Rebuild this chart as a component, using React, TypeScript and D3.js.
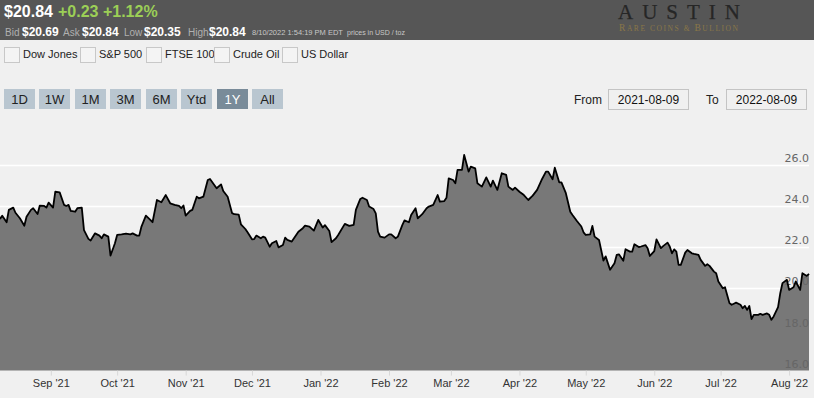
import React, { useEffect, useRef } from "react";
import * as d3 from "d3";

// silver spot, 1Y view
const dates = [
  "2021-08-09", "2021-08-10", "2021-08-12", "2021-08-13", "2021-08-15", "2021-08-16", "2021-08-18", "2021-08-20",
  "2021-08-21", "2021-08-23", "2021-08-24", "2021-08-26", "2021-08-27", "2021-08-29", "2021-08-30", "2021-08-31",
  "2021-09-02", "2021-09-03", "2021-09-05", "2021-09-07", "2021-09-08", "2021-09-09", "2021-09-10", "2021-09-12",
  "2021-09-13", "2021-09-15", "2021-09-16", "2021-09-18", "2021-09-19", "2021-09-21", "2021-09-23", "2021-09-24",
  "2021-09-25", "2021-09-27", "2021-09-28", "2021-09-30",
  "2021-10-01", "2021-10-03", "2021-10-05", "2021-10-07", "2021-10-08", "2021-10-10", "2021-10-11", "2021-10-12",
  "2021-10-14", "2021-10-16", "2021-10-17", "2021-10-19", "2021-10-21", "2021-10-23", "2021-10-25", "2021-10-27",
  "2021-10-29", "2021-10-30", "2021-10-31",
  "2021-11-01", "2021-11-03", "2021-11-04", "2021-11-06", "2021-11-07", "2021-11-09", "2021-11-11", "2021-11-12",
  "2021-11-15", "2021-11-17", "2021-11-18", "2021-11-20", "2021-11-22", "2021-11-23", "2021-11-25", "2021-11-26",
  "2021-11-28", "2021-11-29",
  "2021-12-01", "2021-12-02", "2021-12-03", "2021-12-05", "2021-12-06", "2021-12-07", "2021-12-09", "2021-12-10",
  "2021-12-12", "2021-12-13", "2021-12-15", "2021-12-16", "2021-12-17", "2021-12-19", "2021-12-22", "2021-12-24",
  "2021-12-25", "2021-12-27", "2021-12-29", "2021-12-31",
  "2022-01-02", "2022-01-03", "2022-01-05", "2022-01-06", "2022-01-08", "2022-01-09", "2022-01-12", "2022-01-14",
  "2022-01-16", "2022-01-17", "2022-01-19", "2022-01-20", "2022-01-22", "2022-01-23", "2022-01-25", "2022-01-26",
  "2022-01-27", "2022-01-28", "2022-01-30",
  "2022-02-01", "2022-02-02", "2022-02-04", "2022-02-05", "2022-02-07", "2022-02-08", "2022-02-10", "2022-02-11",
  "2022-02-13", "2022-02-14", "2022-02-16", "2022-02-18", "2022-02-19", "2022-02-21", "2022-02-23", "2022-02-24",
  "2022-02-26", "2022-02-27", "2022-02-28",
  "2022-03-02", "2022-03-03", "2022-03-04", "2022-03-06", "2022-03-07", "2022-03-09", "2022-03-10", "2022-03-12",
  "2022-03-13", "2022-03-15", "2022-03-17", "2022-03-19", "2022-03-20", "2022-03-22", "2022-03-24", "2022-03-26",
  "2022-03-27", "2022-03-29", "2022-03-30",
  "2022-04-01", "2022-04-03", "2022-04-05", "2022-04-07", "2022-04-09", "2022-04-11", "2022-04-13", "2022-04-14",
  "2022-04-16", "2022-04-17", "2022-04-19", "2022-04-20", "2022-04-22", "2022-04-24", "2022-04-25", "2022-04-27",
  "2022-04-29", "2022-04-30",
  "2022-05-01", "2022-05-03", "2022-05-04", "2022-05-05", "2022-05-07", "2022-05-08", "2022-05-09", "2022-05-10",
  "2022-05-12", "2022-05-14", "2022-05-15", "2022-05-16", "2022-05-18", "2022-05-19", "2022-05-21", "2022-05-22",
  "2022-05-23", "2022-05-25", "2022-05-26", "2022-05-28", "2022-05-29", "2022-05-30",
  "2022-06-01", "2022-06-02", "2022-06-04", "2022-06-05", "2022-06-07", "2022-06-08", "2022-06-09", "2022-06-10",
  "2022-06-11", "2022-06-12", "2022-06-13", "2022-06-15", "2022-06-16", "2022-06-18", "2022-06-19", "2022-06-21",
  "2022-06-22", "2022-06-24", "2022-06-25", "2022-06-26", "2022-06-28", "2022-06-29", "2022-06-30",
  "2022-07-02", "2022-07-03", "2022-07-05", "2022-07-06", "2022-07-07", "2022-07-08", "2022-07-10", "2022-07-11",
  "2022-07-12", "2022-07-13", "2022-07-14", "2022-07-15", "2022-07-16", "2022-07-18", "2022-07-19", "2022-07-20",
  "2022-07-22", "2022-07-23", "2022-07-24", "2022-07-25", "2022-07-27", "2022-07-28", "2022-07-29", "2022-07-31",
  "2022-08-01", "2022-08-03", "2022-08-04", "2022-08-06", "2022-08-07", "2022-08-09", "2022-08-10",
];

const prices = [
  23.37, 23.53, 23.21, 23.81, 23.92, 23.67, 23.4, 23.04, 23.48, 23.81, 23.89, 23.61, 24.02, 24.0, 23.92, 24.16,
  23.92, 24.69, 24.66, 24.05, 24.0, 24.05, 23.76, 23.72, 23.89, 23.92, 22.83, 22.4, 22.32, 22.67, 22.56, 22.43,
  22.62, 22.51, 21.59, 22.19,
  22.59, 22.62, 22.66, 22.62, 22.67, 22.56, 22.56, 23.0, 23.53, 23.32, 23.21, 24.29, 24.18, 24.53, 24.13, 24.05,
  24.0, 23.89, 24.02,
  23.53, 23.76, 23.81, 24.45, 24.37, 24.45, 25.26, 25.31, 24.86, 25.05, 24.73, 24.45, 23.65, 23.6, 23.58, 23.11,
  22.88, 22.72,
  22.38, 22.39, 22.56, 22.43, 22.51, 22.46, 22.02, 22.19, 22.3, 21.99, 22.1, 22.46, 22.35, 22.27, 22.75, 22.92,
  23.04, 23.0, 22.8, 23.32,
  22.95, 23.07, 22.78, 22.24, 22.43, 22.59, 23.13, 23.03, 23.08, 23.81, 24.34, 24.4, 24.29, 23.97, 23.85, 23.64,
  22.75, 22.51, 22.46,
  22.62, 22.62, 22.43, 22.51, 23.07, 23.3, 23.21, 23.56, 23.89, 23.4, 23.6, 23.89, 23.97, 24.05, 24.53, 24.21,
  24.24, 24.4, 25.34,
  25.26, 25.1, 25.75, 25.75, 26.48, 25.67, 25.91, 25.83, 25.1, 24.94, 25.39, 24.94, 25.23, 24.78, 25.59, 25.51,
  24.94, 24.78, 24.89,
  24.69, 24.53, 24.29, 24.5, 24.78, 25.26, 25.67, 25.67, 25.3, 25.86, 25.15, 25.15, 24.62, 23.72, 23.56, 23.27,
  23.0, 22.72,
  22.59, 22.62, 23.03, 22.51, 22.35, 21.85, 21.35, 21.55, 20.9, 21.22, 21.62, 21.65, 21.34, 21.9, 21.78, 21.78,
  22.14, 22.0, 22.03, 22.1, 21.95, 21.57,
  21.81, 22.38, 21.95, 22.05, 22.22, 22.03, 21.7, 21.89, 21.78, 21.14, 21.14, 21.73, 21.86, 21.7, 21.67, 21.62,
  21.38, 21.09, 21.17, 21.09, 20.81, 20.73, 20.33,
  20.0, 20.05, 19.28, 19.2, 19.25, 19.3, 19.2, 19.03, 19.14, 18.95, 19.14, 18.5, 18.71, 18.71, 18.76, 18.71,
  18.78, 18.71, 18.47, 18.63, 19.08, 19.76, 20.25, 20.41,
  19.92, 20.05, 20.33, 19.92, 20.73, 20.6, 20.7,
];

const yTicks = [16, 18, 20, 22, 24, 26];
const monthTicks = [
  "2021-09-01", "2021-10-01", "2021-11-01", "2021-12-01", "2022-01-01", "2022-02-01",
  "2022-03-01", "2022-04-01", "2022-05-01", "2022-06-01", "2022-07-01", "2022-08-01",
];
const compareNames = ["Dow Jones", "S&P 500", "FTSE 100", "Crude Oil", "US Dollar"];
const rangeButtons = ["1D", "1W", "1M", "3M", "6M", "Ytd", "1Y", "All"];
const quoteLabels = ["Bid", "Ask", "Low", "High"];
const quoteValues = ["$20.69", "$20.84", "$20.35", "$20.84"];

const W = 814;
const H = 398;
const font = "'Liberation Sans', Arial, sans-serif";

const App = () => {
  const chartRef = useRef(null);

  useEffect(() => {
    const parse = d3.timeParse("%Y-%m-%d");
    const data = dates.map((d, i) => ({ date: parse(d), value: prices[i] }));

    const plot = { left: 0, right: 809, top: 130, bottom: 370.6 };

    const x = d3
      .scaleTime()
      .domain([parse("2021-08-09"), parse("2022-08-10")])
      .range([plot.left, plot.right]);

    const y = d3.scaleLinear().domain([16, 26]).range([plot.bottom, 164.8]);

    const g = d3.select(chartRef.current);
    g.selectAll("*").remove();

    // grid
    g.append("g")
      .selectAll("line")
      .data(yTicks.filter((t) => t > 16))
      .join("line")
      .attr("x1", plot.left)
      .attr("x2", plot.right)
      .attr("y1", (d) => Math.round(y(d)) + 0.5)
      .attr("y2", (d) => Math.round(y(d)) + 0.5)
      .attr("stroke", "#ffffff")
      .attr("stroke-width", 1.5);

    const area = d3
      .area()
      .x((d) => x(d.date))
      .y0(y(16))
      .y1((d) => y(d.value));

    const line = d3
      .line()
      .x((d) => x(d.date))
      .y((d) => y(d.value));

    g.append("path").datum(data).attr("d", area).attr("fill", "#787878");

    // x axis
    const xAxis = g
      .append("g")
      .attr("transform", `translate(0,${plot.bottom})`)
      .call(
        d3
          .axisBottom(x)
          .tickValues(monthTicks.map(parse))
          .tickFormat(d3.timeFormat("%b '%y"))
          .tickSize(5)
          .tickPadding(4)
      );
    xAxis.select(".domain").remove();
    xAxis.selectAll("line").attr("stroke", "#d8d8d8");
    xAxis
      .selectAll("text")
      .attr("fill", "#333")
      .attr("font-size", 11)
      .attr("font-family", font);

    // y axis labels sit above their grid line, right aligned
    const yAxis = g
      .append("g")
      .attr("transform", `translate(${plot.right},0)`)
      .call(d3.axisLeft(y).tickValues(yTicks).tickFormat(d3.format(".1f")).tickSize(0).tickPadding(0));
    yAxis.select(".domain").remove();
    yAxis
      .selectAll("text")
      .attr("dy", "-0.3em")
      .attr("fill", "#666")
      .attr("font-size", 11)
      .attr("font-family", "'DejaVu Sans', sans-serif");

    g.append("path")
      .datum(data)
      .attr("d", line)
      .attr("fill", "none")
      .attr("stroke", "#000")
      .attr("stroke-width", 1.8)
      .attr("stroke-linejoin", "round");
  });

  const boxX = [4, 80, 146, 214, 282];
  const labelX = [5, 63, 124, 188];
  const valueX = [22, 82, 144, 209];
  return (
    <div>
      <style>{"body{margin:0}"}</style>
      <svg width={W} height={H} style={{ display: "block", background: "#f0f0f0", fontFamily: font }}>
        <rect x={0} y={0} width={W} height={40} fill="#565656" />
        <text x={4} y={17} fontSize={16} fontWeight="bold" fill="#fff">$20.84</text>
        <text x={58} y={17} fontSize={16} fontWeight="bold" fill="#9ccf56">+0.23 +1.12%</text>
        {quoteLabels.map((l, i) => (
          <g key={l}>
            <text x={labelX[i]} y={36} fontSize={10} fill="#b0b0b0">{l}</text>
            <text x={valueX[i]} y={36} fontSize={12} fontWeight="bold" fill="#fff">{quoteValues[i]}</text>
          </g>
        ))}
        <text x={252} y={35} fontSize={7.5} fill="#c8c8c8">8/10/2022 1:54:19 PM EDT</text>
        <text x={347} y={35} fontSize={7} fill="#c8c8c8">prices in USD / toz</text>

        <text
          x={618}
          y={19}
          fontSize={21}
          fill="#262626"
          stroke="#262626"
          strokeWidth={0.25}
          fontFamily="'Liberation Serif', serif"
          textLength={122}
          lengthAdjust="spacing"
        >
          AUSTIN
        </text>
        <text
          x={619}
          y={30.5}
          fontSize={7.5}
          fill="#8a7748"
          fontFamily="'Liberation Serif', serif"
          textLength={119}
          lengthAdjust="spacing"
        >
          <tspan fontSize={9.5}>R</tspan>ARE COINS &amp; <tspan fontSize={9.5}>B</tspan>ULLION
        </text>

        {compareNames.map((n, i) => (
          <g key={n}>
            <rect x={boxX[i] + 0.5} y={47.5} width={15} height={15} fill="#f4f4f4" stroke="#c8c8c8" />
            <text x={boxX[i] + 19} y={58} fontSize={11} fill="#222">{n}</text>
          </g>
        ))}

        {rangeButtons.map((b, i) => {
          const bx = [4, 39, 75, 110, 146, 181, 217, 252][i];
          const on = b === "1Y";
          return (
            <g key={b}>
              <rect x={bx} y={89} width={31} height={20} fill={on ? "#798b99" : "#b9c6d0"} />
              <text x={bx + 15.5} y={104} fontSize={13} textAnchor="middle" fill={on ? "#fff" : "#222"}>
                {b}
              </text>
            </g>
          );
        })}

        <text x={574} y={104} fontSize={12} fill="#222">From</text>
        <rect x={608.5} y={89.5} width={80} height={20} fill="#f0f0f0" stroke="#c4c4c4" />
        <text x={648.5} y={104} fontSize={12} textAnchor="middle" fill="#111">2021-08-09</text>
        <text x={706} y={104} fontSize={12} fill="#222">To</text>
        <rect x={726.5} y={89.5} width={80} height={20} fill="#f0f0f0" stroke="#c4c4c4" />
        <text x={766.5} y={104} fontSize={12} textAnchor="middle" fill="#111">2022-08-09</text>

        <g ref={chartRef}></g>
      </svg>
    </div>
  );
};

export default App;
